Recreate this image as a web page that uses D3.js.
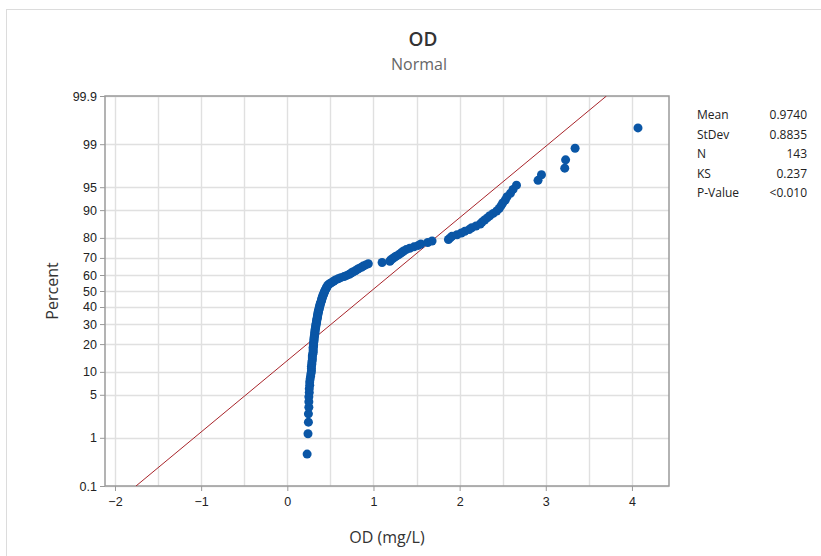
<!DOCTYPE html>
<html>
<head>
<meta charset="utf-8">
<script src="https://cdn.jsdelivr.net/npm/d3@7"></script>
<style>
  body { margin: 0; background: #fff; }
  svg { display: block; font-family: "Open Sans", "Noto Sans", sans-serif; }
</style>
</head>
<body>
<svg id="chart" width="821" height="556"></svg>
<script>
// ---- Data (sorted OD values, mg/L) ----
const odValues = [
  0.23, 0.24, 0.245, 0.245, 0.25, 0.25, 0.25, 0.255, 0.255, 0.26,
  0.26, 0.265, 0.27, 0.275, 0.28, 0.28, 0.28, 0.285, 0.285, 0.29,
  0.29, 0.29, 0.295, 0.30, 0.30, 0.30, 0.30, 0.305, 0.305, 0.305,
  0.31, 0.31, 0.31, 0.315, 0.315, 0.32, 0.32, 0.32, 0.325, 0.325,
  0.33, 0.33, 0.335, 0.335, 0.34, 0.34, 0.345, 0.345, 0.35, 0.35,
  0.355, 0.355, 0.36, 0.36, 0.365, 0.37, 0.37, 0.375, 0.38, 0.38,
  0.385, 0.39, 0.395, 0.40, 0.40, 0.405, 0.41, 0.415, 0.42, 0.425,
  0.43, 0.435, 0.44, 0.45, 0.455, 0.46, 0.47, 0.48, 0.50, 0.52,
  0.54, 0.56, 0.59, 0.62, 0.66, 0.69, 0.72, 0.74, 0.76, 0.79,
  0.81, 0.83, 0.86, 0.88, 0.91, 0.94, 1.10, 1.19, 1.20, 1.22,
  1.24, 1.26, 1.29, 1.31, 1.33, 1.35, 1.38, 1.42, 1.47, 1.52,
  1.55, 1.63, 1.68, 1.87, 1.89, 1.91, 1.97, 2.02, 2.06, 2.11,
  2.14, 2.19, 2.24, 2.26, 2.29, 2.32, 2.35, 2.39, 2.43, 2.46,
  2.48, 2.50, 2.53, 2.55, 2.59, 2.62, 2.66, 2.91, 2.95, 3.22,
  3.23, 3.34, 4.07
];
const fitMean = 0.9740;
const fitStDev = 0.8835;
const percentTicks = [0.1, 1, 5, 10, 20, 30, 40, 50, 60, 70, 80, 90, 95, 99, 99.9];
const percentTickLabels = ["0.1", "1", "5", "10", "20", "30", "40", "50", "60", "70", "80", "90", "95", "99", "99.9"];
const xTicks = [-2, -1, 0, 1, 2, 3, 4];
const xGrid = [-2, -1.5, -1, -0.5, 0, 0.5, 1, 1.5, 2, 2.5, 3, 3.5, 4];
const statLabels = ["Mean", "StDev", "N", "KS", "P-Value"];
const statValues = ["0.9740", "0.8835", "143", "0.237", "<0.010"];
const titleText = "OD";
const subtitleText = "Normal";
const xLabel = "OD (mg/L)";
const yLabel = "Percent";

// inverse standard normal CDF (Acklam)
function probit(p) {
  const a = [-3.969683028665376e+01, 2.209460984245205e+02, -2.759285104469687e+02, 1.383577518672690e+02, -3.066479806614716e+01, 2.506628277459239e+00];
  const b = [-5.447609879822406e+01, 1.615858368580409e+02, -1.556989798598866e+02, 6.680131188771972e+01, -1.328068155288572e+01];
  const c = [-7.784894002430293e-03, -3.223964580411365e-01, -2.400758277161838e+00, -2.549732539343734e+00, 4.374664141464968e+00, 2.938163982698783e+00];
  const d = [7.784695709041462e-03, 3.224671290700398e-01, 2.445134137142996e+00, 3.754408661907416e+00];
  const pl = 0.02425, ph = 1 - pl;
  let q, r;
  if (p < pl) {
    q = Math.sqrt(-2 * Math.log(p));
    return (((((c[0]*q+c[1])*q+c[2])*q+c[3])*q+c[4])*q+c[5]) / ((((d[0]*q+d[1])*q+d[2])*q+d[3])*q+1);
  } else if (p <= ph) {
    q = p - 0.5; r = q*q;
    return (((((a[0]*r+a[1])*r+a[2])*r+a[3])*r+a[4])*r+a[5])*q / (((((b[0]*r+b[1])*r+b[2])*r+b[3])*r+b[4])*r+1);
  } else {
    q = Math.sqrt(-2 * Math.log(1 - p));
    return -(((((c[0]*q+c[1])*q+c[2])*q+c[3])*q+c[4])*q+c[5]) / ((((d[0]*q+d[1])*q+d[2])*q+d[3])*q+1);
  }
}

const svg = d3.select("#chart");
const L = 105, R = 669, T = 96, B = 486;

// outer frame
svg.append("rect").attr("x", 6.5).attr("y", 9.5).attr("width", 830).attr("height", 560)
  .attr("fill", "none").attr("stroke", "#dcdcdc").attr("stroke-width", 1);

const x = d3.scaleLinear().domain([-2.116, 4.43]).range([L, R]);
const zMin = probit(0.001), zMax = probit(0.999);
const y = d3.scaleLinear().domain([zMin, zMax]).range([B, T]);
const yP = p => y(probit(p / 100));

// grid
const g = svg.append("g");
g.selectAll(".vg").data(xGrid).join("line")
  .attr("x1", d => Math.round(x(d)) + 0.5).attr("x2", d => Math.round(x(d)) + 0.5)
  .attr("y1", T).attr("y2", B).attr("stroke", "#e0e0e0").attr("stroke-width", 1.4);
g.selectAll(".hg").data(percentTicks).join("line")
  .attr("x1", L).attr("x2", R)
  .attr("y1", d => Math.round(yP(d)) + 0.5).attr("y2", d => Math.round(yP(d)) + 0.5)
  .attr("stroke", "#e0e0e0").attr("stroke-width", 1.4);

// axes
const xAxis = d3.axisBottom(x).tickValues(xTicks).tickSize(5).tickPadding(6).tickFormat(d3.format("d"));
const gx = svg.append("g").attr("transform", `translate(0,${B})`).call(xAxis);
gx.select(".domain").remove();
gx.selectAll("line").attr("stroke", "#999");
gx.selectAll("text").attr("fill", "#222").attr("font-size", 12.5);

const yAxis = d3.axisLeft(y).tickValues(percentTicks.map(p => probit(p / 100)))
  .tickSize(5).tickPadding(3).tickFormat((d, i) => percentTickLabels[i]);
const gy = svg.append("g").attr("transform", `translate(${L},0)`).call(yAxis);
gy.select(".domain").remove();
gy.selectAll("line").attr("stroke", "#999");
gy.selectAll("text").attr("fill", "#222").attr("font-size", 12.5);

// frame
svg.append("rect").attr("x", L).attr("y", T).attr("width", R - L).attr("height", B - T)
  .attr("fill", "none").attr("stroke", "#9a9a9a").attr("stroke-width", 1.5);

// fit line
svg.append("clipPath").attr("id", "pc").append("rect")
  .attr("x", L).attr("y", T).attr("width", R - L).attr("height", B - T);
const fitPts = [0.001, 0.999].map(p => [fitMean + fitStDev * probit(p), probit(p)]);
svg.append("line").attr("clip-path", "url(#pc)")
  .attr("x1", x(fitPts[0][0])).attr("y1", y(fitPts[0][1]))
  .attr("x2", x(fitPts[1][0])).attr("y2", y(fitPts[1][1]))
  .attr("stroke", "#a8242a").attr("stroke-width", 1);

// points
const n = odValues.length;
svg.append("g").selectAll("circle").data(odValues).join("circle")
  .attr("cx", d => x(d))
  .attr("cy", (d, i) => y(probit((i + 1 - 0.3) / (n + 0.4))))
  .attr("r", 4.5).attr("fill", "#0a56a6");

// titles
svg.append("text").attr("x", 423).attr("y", 46).attr("text-anchor", "middle")
  .attr("font-size", 19).attr("font-weight", 600).attr("fill", "#333").text(titleText);
svg.append("text").attr("x", 419).attr("y", 70).attr("text-anchor", "middle")
  .attr("font-size", 16).attr("fill", "#666").text(subtitleText);
svg.append("text").attr("x", 387).attr("y", 543).attr("text-anchor", "middle")
  .attr("font-size", 16).attr("fill", "#333").text(xLabel);
svg.append("text").attr("transform", "translate(58,291) rotate(-90)").attr("text-anchor", "middle")
  .attr("font-size", 16).attr("fill", "#333").text(yLabel);

// stats table
const st = svg.append("g").attr("font-size", 12).attr("fill", "#222");
st.selectAll(".sl").data(statLabels).join("text")
  .attr("x", 697).attr("y", (d, i) => 119 + i * 19.5).text(d => d);
st.selectAll(".sv").data(statValues).join("text")
  .attr("x", 807).attr("y", (d, i) => 119 + i * 19.5).attr("text-anchor", "end").text(d => d);
</script>
</body>
</html>
